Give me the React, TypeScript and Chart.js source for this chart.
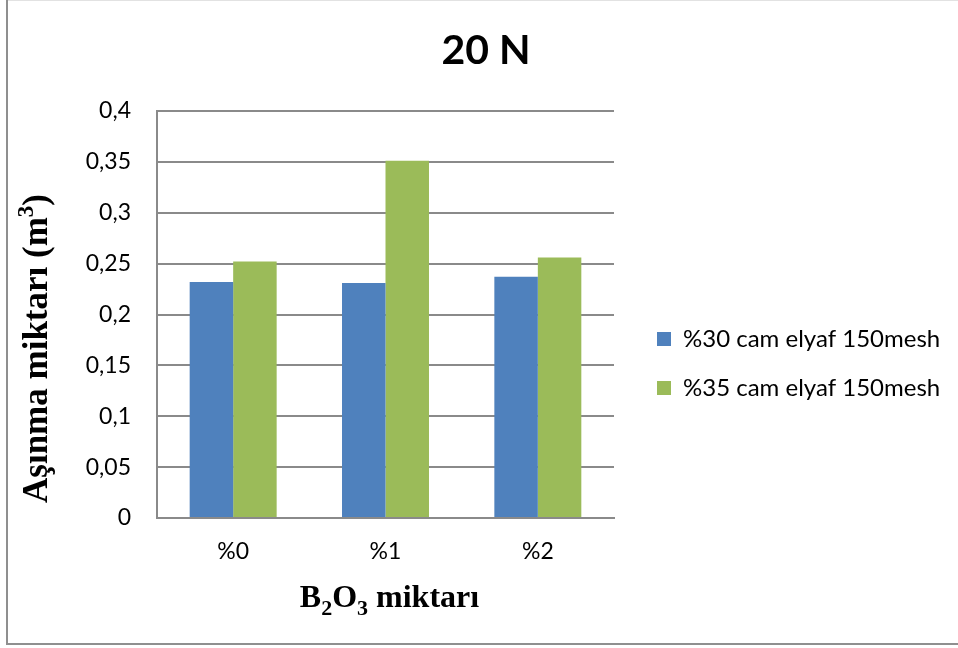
import { useEffect, useRef } from 'react';
import { Chart, registerables } from 'chart.js';

Chart.register(...registerables);

const categories = ['%0', '%1', '%2'];
const seriesLabels = ['%30 cam elyaf 150mesh', '%35 cam elyaf 150mesh'];
const series30 = [0.232, 0.231, 0.237];
const series35 = [0.252, 0.351, 0.256];
const yTicks = [0, 0.05, 0.1, 0.15, 0.2, 0.25, 0.3, 0.35, 0.4];
const chartTitle = '20 N';

const W = 958;
const H = 648;
const SANS = 'Lato';
const SERIF = '"Liberation Serif", "Times New Roman", serif';
const TICK_SIZE = 23;
const LEGEND_SIZE = 24;
const GRID = '#8a8a8a';

type Seg = { t: string; size: number; dy: number };

function drawRich(ctx: CanvasRenderingContext2D, segs: Seg[], cx: number, baseline: number) {
  let total = 0;
  const widths = segs.map((s) => {
    ctx.font = `bold ${s.size}px ${SERIF}`;
    const w = ctx.measureText(s.t).width;
    total += w;
    return w;
  });
  let x = cx - total / 2;
  segs.forEach((s, i) => {
    ctx.font = `bold ${s.size}px ${SERIF}`;
    ctx.fillText(s.t, x, baseline + s.dy);
    x += widths[i];
  });
}

const yTitleSegs: Seg[] = [
  { t: 'Aşınma miktarı (m', size: 35, dy: 0 },
  { t: '3', size: 23, dy: -14 },
  { t: ')', size: 35, dy: 0 },
];
const xTitleSegs: Seg[] = [
  { t: 'B', size: 32, dy: 0 },
  { t: '2', size: 22, dy: 8 },
  { t: 'O', size: 32, dy: 0 },
  { t: '3', size: 22, dy: 8 },
  { t: ' miktarı', size: 32, dy: 0 },
];

const decorPlugin = {
  id: 'decor',
  beforeDraw(chart: any) {
    const { ctx } = chart;
    ctx.save();
    ctx.fillStyle = '#ffffff';
    ctx.fillRect(0, 0, chart.width, chart.height);
    ctx.fillStyle = '#e2e2e2';
    ctx.fillRect(6, 0, chart.width - 6, 1);
    ctx.fillStyle = '#8f8f8f';
    ctx.fillRect(6, 0, 2, 645);
    ctx.fillRect(6, 643, chart.width - 6, 2);
    ctx.restore();
  },
  afterDraw(chart: any) {
    const { ctx, chartArea } = chart;
    ctx.save();
    ctx.fillStyle = '#000000';
    ctx.textAlign = 'left';
    ctx.textBaseline = 'alphabetic';
    ctx.save();
    ctx.translate(47, (chartArea.top + chartArea.bottom) / 2 + 34);
    ctx.rotate(-Math.PI / 2);
    drawRich(ctx, yTitleSegs, 0, 0);
    ctx.restore();
    drawRich(ctx, xTitleSegs, (chartArea.left + chartArea.right) / 2 + 4, chartArea.bottom + 89);
    ctx.restore();
  },
};

export default function App() {
  const ref = useRef<HTMLCanvasElement>(null);

  useEffect(() => {
    document.body.style.margin = '0';
    const canvas = ref.current;
    if (!canvas) return;

    const m = document.createElement('canvas').getContext('2d')!;
    m.font = `${LEGEND_SIZE}px ${SANS}`;
    const textW = Math.max(...seriesLabels.map((s) => m.measureText(s).width));
    const legendPad = 25;
    const boxW = 14;
    const legendW = legendPad + boxW + LEGEND_SIZE / 2 + textW + 10;
    const legendLeft = 657 - legendPad;
    const padRight = Math.max(0, W - legendLeft - legendW);
    const padLeft = 2 * 486 - W + padRight;
    const plotLeft = 157;
    const plotRight = 614;
    const plotBottom = 518;

    const chart = new Chart(canvas, {
      type: 'bar',
      data: {
        labels: categories,
        datasets: [
          {
            label: seriesLabels[0],
            data: series30,
            backgroundColor: '#4F81BD',
            borderWidth: 0,
          },
          {
            label: seriesLabels[1],
            data: series35,
            backgroundColor: '#9BBB59',
            borderWidth: 0,
          },
        ],
      },
      options: {
        responsive: false,
        animation: false,
        layout: { padding: { left: padLeft, right: padRight, top: 0, bottom: 0 } },
        datasets: {
          bar: { categoryPercentage: 0.571, barPercentage: 1 },
        },
        plugins: {
          title: {
            display: true,
            text: chartTitle,
            color: '#000000',
            font: { family: SANS, size: 41, weight: 'bold', lineHeight: 1.2 },
            padding: { top: 26.4, bottom: 35.4 },
          },
          legend: {
            display: true,
            position: 'right',
            align: 'center',
            maxWidth: 600,
            title: {
              display: true,
              text: ' ',
              font: { size: 10, lineHeight: 1 },
              padding: { top: 69, bottom: 0 },
            },
            labels: {
              color: '#000000',
              font: { family: SANS, size: LEGEND_SIZE },
              boxWidth: boxW,
              boxHeight: 14,
              padding: legendPad,
            },
          },
          tooltip: { enabled: false },
        },
        scales: {
          x: {
            position: 'bottom',
            grid: { display: false, drawTicks: false },
            border: { display: true, color: GRID, width: 2 },
            ticks: {
              color: '#000000',
              font: { family: SANS, size: TICK_SIZE },
              padding: 20,
              maxRotation: 0,
            },
            afterFit: (s: any) => {
              s.height = H - plotBottom;
            },
          },
          y: {
            position: 'left',
            min: 0,
            max: 0.4,
            grid: { color: GRID, lineWidth: 2, drawTicks: false },
            border: { display: true, color: GRID, width: 2 },
            ticks: {
              color: '#000000',
              font: { family: SANS, size: TICK_SIZE },
              padding: 26,
              callback: (v: any) => Number(Number(v).toFixed(2)).toString().replace('.', ','),
            },
            afterBuildTicks: (s: any) => {
              s.ticks = yTicks.map((v) => ({ value: v }));
            },
            afterFit: (s: any) => {
              s.width = plotLeft - padLeft;
            },
          },
          yGap: {
            type: 'linear',
            position: 'right',
            display: true,
            grid: { display: false, drawTicks: false },
            border: { display: false },
            ticks: { display: false },
            afterFit: (s: any) => {
              s.width = legendLeft - plotRight;
            },
          },
        },
      },
      plugins: [decorPlugin],
    } as any);

    return () => chart.destroy();
  }, []);

  return (
    <div style={{ width: W, height: H, overflow: 'hidden' }}>
      <canvas ref={ref} width={W} height={H} style={{ display: 'block' }} />
    </div>
  );
}
